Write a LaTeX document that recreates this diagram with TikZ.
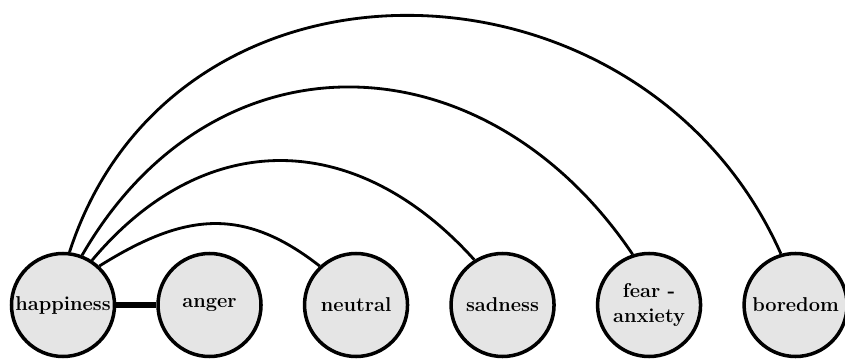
\documentclass[tikz,border=0pt]{standalone}
\usepackage{tikz}
\usetikzlibrary{positioning}

\begin{document}
\begin{tikzpicture}[
  emo/.style={circle, draw, line width=2pt, fill=black!10,
              align=center, font=\fontsize{11.4}{14}\selectfont\bfseries,
              inner sep=0.5pt, minimum size=2.06cm},
  link/.style={draw, line width=1.6pt},
  node distance=0.80cm
]
\useasboundingbox (-1.26,-1.06) rectangle (15.64,6.1);
\node[emo] (happy) {happiness};
\node[emo, right=of happy] (anger) {anger};
\node[emo, right=of anger] (neutral) {neutral};
\node[emo, right=of neutral] (sad) {sadness};
\node[emo, right=of sad] (fear) {fear -\\anxiety};
\node[emo, right=of fear] (bored) {boredom};
\draw[link, line width=3pt] (happy)--(anger);
\draw[link] (happy.47) to[out=32, in=142, looseness=1.15] (neutral.133);
\draw[link] (happy.57) to[out=50, in=132, looseness=1.18] (sad.122);
\draw[link] (happy.69) to[out=60, in=124, looseness=1.23] (fear.108);
\draw[link] (happy.83) to[out=72, in=114, looseness=1.22] (bored.106);
\end{tikzpicture}
\end{document}
